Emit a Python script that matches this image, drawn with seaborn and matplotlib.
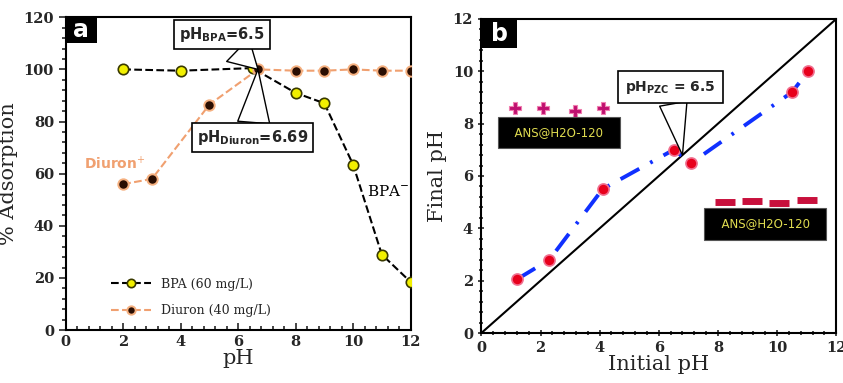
import matplotlib.pyplot as plt
import seaborn as sns
from matplotlib.patches import Rectangle
from matplotlib.ticker import MultipleLocator

# ---- panel a: adsorption vs pH ----
ph_bpa = [2, 4, 6.5, 8, 9, 10, 11, 12]
ads_bpa = [100, 99.5, 100.5, 91, 87, 63.5, 29, 18.5]
ph_diuron = [2, 3, 5, 6.69, 8, 9, 10, 11, 12]
ads_diuron = [56, 58, 86.5, 100, 99.5, 99.5, 100, 99.5, 99.5]

# ---- panel b: pH drift (point of zero charge) ----
ph_initial = [1.2, 2.3, 4.1, 6.5, 7.1, 10.5, 11.05]
ph_final = [2.05, 2.8, 5.5, 7.0, 6.5, 9.2, 10.0]
plus_x = [1.13, 2.09, 3.18, 4.13]
plus_y = [8.6, 8.6, 8.5, 8.6]
minus_x = [8.25, 9.15, 10.05, 11.0]
minus_y = [5.0, 5.03, 4.97, 5.07]

sns.set_style("white")
plt.rcParams["font.family"] = ["DejaVu Serif"]
plt.rcParams["mathtext.fontset"] = "dejavusans"

SERIF = "DejaVu Serif"
SANS = "DejaVu Sans"

fig = plt.figure(figsize=(8.43, 3.83), dpi=100)
ax1 = fig.add_axes([0.078, 0.138, 0.409, 0.817])
ax2 = fig.add_axes([0.571, 0.1305, 0.421, 0.820])


def panel_tag(ax, letter, w, h):
    ax.add_patch(Rectangle((0, 1 - h), w, h, transform=ax.transAxes, fc="black",
                           ec="none", zorder=10, clip_on=False))
    ax.text(w / 2, 1 - h / 2, letter, transform=ax.transAxes, ha="center", va="center",
            color="white", fontsize=17, fontweight="bold", family=SANS, zorder=11)


def style_axes(ax, xdir, ydir):
    for s in ax.spines.values():
        s.set_linewidth(1.5)
        s.set_color("black")
    ax.tick_params(axis="x", which="both", direction=xdir, bottom=True, top=False, width=1.2)
    ax.tick_params(axis="y", which="both", direction=ydir, left=True, right=False, width=1.2)
    ax.tick_params(which="major", length=5)
    ax.tick_params(which="minor", length=3)
    for lab in ax.get_xticklabels() + ax.get_yticklabels():
        lab.set_fontweight("bold")
        lab.set_fontsize(10.5)
        lab.set_family(SERIF)


# ---------------- panel a ----------------
sns.lineplot(x=ph_bpa, y=ads_bpa, ax=ax1, color="black", linestyle="--", lw=1.5,
             marker="o", markersize=7.5, markerfacecolor="#f2f000", markeredgecolor="#3a3a00",
             markeredgewidth=1.2, label="BPA (60 mg/L)", zorder=4)
sns.lineplot(x=ph_diuron, y=ads_diuron, ax=ax1, color="#f0a070", linestyle="--", lw=1.5,
             marker="o", markersize=7.5, markerfacecolor="#2a0e02", markeredgecolor="#f5b080",
             markeredgewidth=1.4, label="Diuron (40 mg/L)", zorder=5)

ax1.set_xlim(0, 12)
ax1.set_ylim(0, 120)
ax1.xaxis.set_major_locator(MultipleLocator(2))
ax1.xaxis.set_minor_locator(MultipleLocator(0.4))
ax1.yaxis.set_major_locator(MultipleLocator(20))
ax1.yaxis.set_minor_locator(MultipleLocator(4))
style_axes(ax1, "in", "out")
ax1.set_xlabel("pH", fontsize=15, family=SERIF, labelpad=0)
ax1.set_ylabel("% Adsorption", fontsize=15, family=SERIF, labelpad=4)

leg = ax1.legend(loc="lower left", bbox_to_anchor=(0.1, 0.005), frameon=False,
                 handlelength=3.2, labelspacing=1.1, prop={"family": SERIF, "size": 9})
for h in leg.legend_handles:
    h.set_markersize(6)

box = dict(boxstyle="square,pad=0.35", fc="white", ec="black", lw=1.2)
wedge = dict(arrowstyle="wedge,tail_width=2.2", fc="white", ec="black", lw=1,
             shrinkA=0, shrinkB=0)
ax1.annotate(r"pH$_{\mathbf{BPA}}$=6.5", xy=(6.69, 100), xytext=(5.44, 113.3),
             ha="center", va="center", fontsize=10.5, fontweight="bold", family=SANS,
             bbox=box, arrowprops=wedge, zorder=6)
ax1.annotate(r"pH$_{\mathbf{Diuron}}$=6.69", xy=(6.69, 100), xytext=(6.5, 73.8),
             ha="center", va="center", fontsize=10.5, fontweight="bold", family=SANS,
             bbox=box, arrowprops=wedge, zorder=6)
ax1.text(1.7, 64, r"Diuron$^{+}$", color="#f0a070", fontsize=10, fontweight="bold",
         family=SANS, ha="center", va="center")
ax1.text(10.5, 53, r"BPA$^{-}$", color="black", fontsize=11, family=SERIF,
         ha="left", va="center")
panel_tag(ax1, "a", 0.09, 0.083)

# ---------------- panel b ----------------
ax2.axline((0, 0), slope=1, color="black", lw=1.5, zorder=2)
sns.lineplot(x=ph_initial, y=ph_final, ax=ax2, color="#1030ff", lw=2.8,
             dashes=False, zorder=4)
ax2.lines[-1].set_linestyle((0, (5.5, 3.2, 0.7, 3.2)))
ax2.plot(ph_initial, ph_final, linestyle="none", marker="o", markersize=8,
         markerfacecolor="#e8001c", markeredgecolor="#f07090", markeredgewidth=1.2,
         zorder=5)
sns.scatterplot(x=plus_x, y=plus_y, ax=ax2, marker="P", s=65, color="#c01070",
                edgecolor="#f080b0", linewidth=0.8, zorder=5)
ax2.plot(minus_x, minus_y, linestyle="none", marker="_", markersize=14,
         markeredgewidth=5, color="#c8103c", zorder=5)

ax2.set_xlim(0, 12)
ax2.set_ylim(0, 12)
ax2.xaxis.set_major_locator(MultipleLocator(2))
ax2.xaxis.set_minor_locator(MultipleLocator(0.4))
ax2.yaxis.set_major_locator(MultipleLocator(2))
ax2.yaxis.set_minor_locator(MultipleLocator(0.4))
style_axes(ax2, "inout", "inout")
ax2.set_xlabel("Initial pH", fontsize=15, family=SERIF, labelpad=0)
ax2.set_ylabel("Final pH", fontsize=15, family=SERIF, labelpad=4)

ax2.annotate(r"pH$_{\mathbf{PZC}}$ = 6.5", xy=(6.8, 6.8), xytext=(6.39, 9.4),
             ha="center", va="center", fontsize=10, fontweight="bold", family=SANS,
             bbox=dict(boxstyle="square,pad=0.55", fc="white", ec="black", lw=1.2),
             arrowprops=dict(wedge, arrowstyle="wedge,tail_width=2.0"), zorder=6)

tag = dict(boxstyle="square,pad=0.8", fc="black", ec="#555555", lw=0.8)
ax2.text(2.62, 7.66, "  ANS@H2O-120  ", ha="center", va="center", fontsize=8.5,
         color="#e0dc50", family=SANS, bbox=tag, zorder=6)
ax2.text(9.6, 4.18, "  ANS@H2O-120  ", ha="center", va="center", fontsize=8.5,
         color="#e0dc50", family=SANS, bbox=tag, zorder=6)
panel_tag(ax2, "b", 0.10, 0.093)

fig.savefig("out.png", dpi=100)
